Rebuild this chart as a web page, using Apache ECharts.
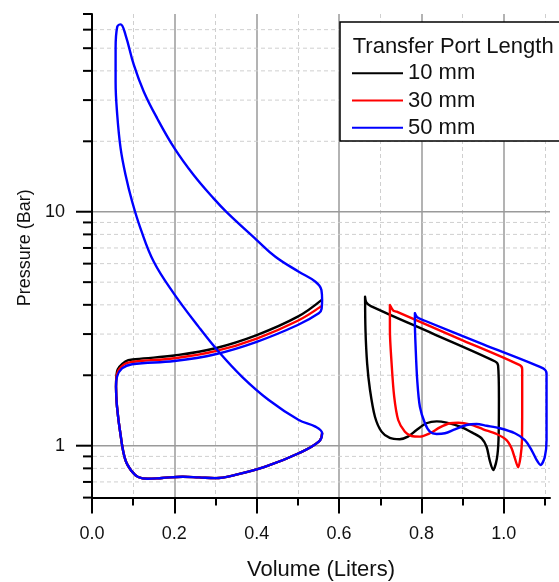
<!DOCTYPE html>
<html><head><meta charset="utf-8">
<script src="https://cdn.jsdelivr.net/npm/echarts@6/dist/echarts.min.js"></script>
<style>html,body{margin:0;padding:0;background:#fff}#c{width:559px;height:582px}</style>
</head><body><div id="c"></div>
<script>
// ---- data (Volume in liters, Pressure in bar) ----
const seriesNames = ['10 mm', '30 mm', '50 mm'];
const seriesColors = ['#000000', '#ff0000', '#0000ff'];

// shared lower branch of the left loop (right hook -> bottom -> left side)
const bottomPath = [[0.5587,1.13],[0.5506,1.04],[0.502,0.928],[0.421,0.813],[0.348,0.75],[0.2996,0.727],[0.26,0.732],[0.22,0.737],[0.17,0.728],[0.135,0.722],[0.112,0.735],[0.097,0.775],[0.081,0.869],[0.0688,1.13],[0.0607,1.468],[0.0583,1.787]];

const blackUpper = [[0.0583,1.787],[0.0607,2.07],[0.081,2.29],[0.1053,2.34],[0.2,2.43],[0.2996,2.61],[0.4,2.97],[0.4996,3.56],[0.557,4.19]];
const redUpper = [[0.0583,1.787],[0.0607,2.02],[0.077,2.22],[0.101,2.285],[0.2,2.365],[0.2996,2.535],[0.4,2.87],[0.4996,3.42],[0.555,3.93]];
const blueUpper = [[0.0583,1.787],[0.0607,1.97],[0.0729,2.14],[0.0972,2.23],[0.2,2.30],[0.2996,2.46],[0.4,2.78],[0.4996,3.28],[0.5506,3.68]];

// 50 mm high-pressure lobe (upper hook -> compression -> peak -> expansion -> lower hook)
const blueLobe = [[0.5506,3.68],[0.5575,3.85],[0.5587,4.19],[0.557,4.63],[0.5425,5.02],[0.502,5.54],[0.4453,6.42],[0.4,7.57],[0.3274,9.94],[0.2952,11.4],[0.2468,14.35],[0.2,18.7],[0.1581,25.1],[0.1258,32.6],[0.1016,42.4],[0.0815,56.9],[0.0694,63.2],[0.0613,61.7],[0.0573,49.9],[0.0573,35.9],[0.0613,25.9],[0.0694,18.7],[0.0815,14.35],[0.0976,11.03],[0.1177,8.49],[0.15,6.11],[0.1984,4.48],[0.259,3.22],[0.3077,2.52],[0.3644,1.97],[0.4291,1.568],[0.502,1.288],[0.5425,1.206],[0.5587,1.13]];

// right-hand loops
const blackRight = [[0.663,4.33],[0.666,4.1],[0.677,3.95],[0.83,3.0],[0.979,2.29],[0.986,2.2],[0.988,1.6],[0.987,1.06],[0.983,0.88],[0.974,0.787],[0.966,0.86],[0.958,0.99],[0.946,1.075],[0.926,1.13],[0.894,1.206],[0.861,1.254],[0.837,1.271],[0.812,1.247],[0.788,1.167],[0.767,1.093],[0.747,1.065],[0.723,1.079],[0.703,1.148],[0.687,1.33],[0.675,1.73],[0.668,2.25],[0.664,3.12],[0.663,4.33]];
const redRight = [[0.7233,3.99],[0.7315,3.78],[0.7396,3.74],[0.89,2.87],[1.0388,2.21],[1.0445,2.12],[1.0445,1.6],[1.044,1.06],[1.0405,0.897],[1.0347,0.809],[1.0267,0.884],[1.0187,0.975],[1.0065,1.057],[0.9823,1.122],[0.9498,1.175],[0.9175,1.234],[0.889,1.254],[0.869,1.247],[0.8447,1.198],[0.8204,1.13],[0.7961,1.093],[0.776,1.10],[0.7597,1.148],[0.7434,1.288],[0.7337,1.62],[0.7274,2.25],[0.7233,3.12],[0.7233,3.99]];
const blueRight = [[0.784,3.68],[0.7896,3.54],[0.8083,3.42],[0.95,2.71],[1.0954,2.14],[1.1036,2.04],[1.1036,1.6],[1.1036,1.057],[1.0995,0.897],[1.0891,0.827],[1.0794,0.869],[1.0672,0.958],[1.051,1.057],[1.0267,1.13],[0.9903,1.187],[0.958,1.217],[0.9337,1.238],[0.9094,1.226],[0.881,1.175],[0.8568,1.13],[0.8366,1.122],[0.8204,1.148],[0.8083,1.247],[0.7961,1.467],[0.7896,1.91],[0.7857,2.65],[0.784,3.33],[0.784,3.68]];

// axis ticks
const yMajorTicks = [1, 10];
const yMinorTicks = [0.6, 0.7, 0.8, 0.9, 2, 3, 4, 5, 6, 7, 8, 9, 20, 30, 40, 50, 60, 70];
const xRange = [0, 1.112];
const xTickRange = [0, 1.2];
const yRange = [0.6, 70];
const legendTitle = 'Transfer Port Length';

// ---- chart ----
const FONT = '"Liberation Sans", Arial, Helvetica, sans-serif';
const chart = echarts.init(document.getElementById('c'), null, {renderer: 'canvas'});

function lineSeries(idx, data, smooth) {
  return {
    type: 'line', name: seriesNames[idx], data: data,
    xAxisIndex: 0, yAxisIndex: 0,
    symbol: 'none', showSymbol: false, smooth: smooth,
    lineStyle: {color: seriesColors[idx], width: 2.4, join: 'round', cap: 'round'},
    itemStyle: {color: seriesColors[idx]},
    z: 3, animation: false
  };
}

const tickData = yMajorTicks.map(v => [0, v, 1]).concat(yMinorTicks.map(v => [0, v, 0]));

const option = {
  animation: false,
  backgroundColor: '#ffffff',
  textStyle: {fontFamily: FONT, color: '#111'},
  grid: [
    {left: 92, right: 9, top: 14, bottom: 84.4, outerBoundsMode: 'none', containLabel: false},
    {left: 92, right: 559 - (92 + 1.2 * 458 / 1.112), top: 14, bottom: 84.4, outerBoundsMode: 'none', containLabel: false}
  ],
  xAxis: [
    {
      type: 'value', gridIndex: 0, min: xRange[0], max: xRange[1],
      axisLine: {show: true, onZero: false, lineStyle: {color: '#000', width: 2}},
      axisTick: {show: false}, axisLabel: {show: false}, splitLine: {show: false},
      name: 'Volume (Liters)', nameLocation: 'middle', nameGap: 61, nameMoveOverlap: false,
      nameTextStyle: {fontSize: 22, color: '#111', fontFamily: FONT}
    },
    {
      type: 'value', gridIndex: 1, min: xTickRange[0], max: xTickRange[1], interval: 0.2,
      axisLine: {show: false},
      axisTick: {show: true, length: 16, lineStyle: {color: '#000', width: 2}},
      minorTick: {show: true, splitNumber: 2, length: 8, lineStyle: {color: '#000', width: 2}},
      axisLabel: {show: true, fontSize: 18, color: '#111', margin: 27, fontFamily: FONT,
        formatter: v => v.toFixed(1)},
      splitLine: {show: true, showMinLine: false, lineStyle: {color: '#9a9a9a', width: 1.5}},
      minorSplitLine: {show: true, lineStyle: {color: '#cfcfcf', width: 1, type: [4, 3]}}
    }
  ],
  yAxis: [
    {
      type: 'log', logBase: 10, gridIndex: 0, min: yRange[0], max: yRange[1],
      axisLine: {show: true, onZero: false, lineStyle: {color: '#000', width: 2}},
      axisTick: {show: false}, splitLine: {show: false},
      axisLabel: {show: true, fontSize: 18, color: '#111', margin: 27, fontFamily: FONT,
        showMinLabel: false, showMaxLabel: false, formatter: v => String(Math.round(v))},
      name: 'Pressure (Bar)', nameLocation: 'middle', nameGap: 58, nameMoveOverlap: false,
      nameTextStyle: {fontSize: 18, color: '#111', fontFamily: FONT, padding: [0, 0, 0, 16]}
    },
    {type: 'value', gridIndex: 1, min: 0, max: 1, show: false}
  ],
  legend: {
    data: seriesNames, orient: 'vertical', left: 352, top: 62.3,
    icon: 'rect', itemWidth: 51, itemHeight: 2, itemGap: 5.2, padding: 0,
    textStyle: {fontSize: 22, color: '#111', fontFamily: FONT, lineHeight: 22},
    selectedMode: false, z: 12
  },
  graphic: [
    {type: 'rect', z: 10, shape: {x: 340, y: 22, width: 260, height: 119},
      style: {fill: '#ffffff', stroke: '#000', lineWidth: 1.5}},
    {type: 'text', z: 12, x: 352.7, y: 46.7,
      style: {text: legendTitle, fontSize: 22, fill: '#111', fontFamily: FONT, verticalAlign: 'middle', align: 'left'}}
  ],
  series: [
    {
      type: 'custom', name: 'yticks', xAxisIndex: 0, yAxisIndex: 0, data: tickData, clip: false, z: 1,
      silent: true, animation: false, legendHoverLink: false,
      renderItem: function (params, api) {
        const v = api.value(1);
        const major = api.value(2) === 1;
        const p = api.coord([0, v]);
        const cs = params.coordSys;
        const len = major ? 16 : 9;
        const children = [{type: 'line', shape: {x1: cs.x - len, y1: p[1], x2: cs.x, y2: p[1]},
          style: {stroke: '#000', lineWidth: 2}}];
        if (v > yRange[0] && v < yRange[1]) {
          children.push({type: 'line', shape: {x1: cs.x + 1, y1: p[1], x2: cs.x + cs.width, y2: p[1]},
            style: major ? {stroke: '#9a9a9a', lineWidth: 1.5} : {stroke: '#cfcfcf', lineWidth: 1, lineDash: [4, 3]}});
        }
        return {type: 'group', children: children};
      }
    },
    lineSeries(0, bottomPath.concat(blackUpper.slice(1)), 0.4),
    lineSeries(0, blackRight, 0.3),
    lineSeries(1, bottomPath.concat(redUpper.slice(1)), 0.4),
    lineSeries(1, redRight, 0.3),
    lineSeries(2, blueUpper.concat(blueLobe.slice(1), bottomPath.slice(1)), 0.4),
    lineSeries(2, blueRight, 0.3)
  ]
};
chart.setOption(option);
</script></body></html>
